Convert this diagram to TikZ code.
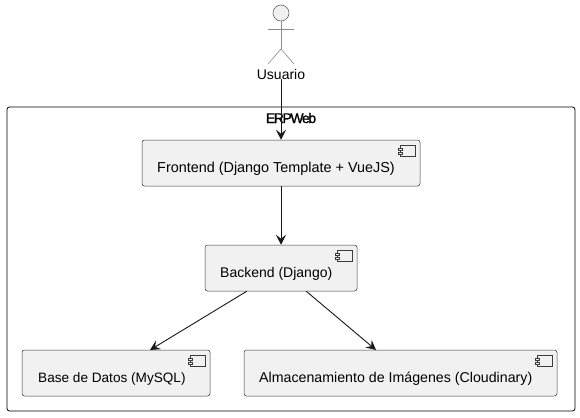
\documentclass[tikz,border=0pt]{standalone}
\usepackage{fontspec}
\setmainfont{Liberation Sans}
\newfontfamily\titlefont[FakeBold=1.2,LetterSpace=-10]{Liberation Sans}
\usetikzlibrary{arrows.meta}
\definecolor{boxfill}{HTML}{F1F1F1}
\definecolor{linedark}{HTML}{181818}
\tikzset{
	compbox/.style={draw=linedark!85,line width=.5pt,fill=boxfill,rounded corners=2.5pt,minimum height=46pt,inner sep=0pt},
	complabel/.style={anchor=west,inner sep=0pt,font=\fontsize{#1}{16}\selectfont,text=black},
	complabel/.default=14,
	link/.style={draw=linedark,line width=.9pt,-{Stealth[length=10pt,width=10pt,inset=4pt]}},
	actorline/.style={draw=linedark!50,line width=.6pt},
	compicon/.pic={
		\draw[linedark!85,line width=.5pt,fill=boxfill] (-20,5.5) rectangle (-5,16);
		\draw[linedark!85,line width=.5pt,fill=boxfill] (-22,8) rectangle (-18,10);
		\draw[linedark!85,line width=.5pt,fill=boxfill] (-22,12) rectangle (-18,14);
	}
}
\begin{document}
\begin{tikzpicture}[x=1pt,y=-1pt]
	\useasboundingbox (0,0) rectangle (580,417);
	% outer frame
	\node[draw=black,line width=.8pt,rounded corners=2.5pt,minimum width=568pt,minimum height=304pt,inner sep=0pt] (erpweb) at (291,259) {};
	\node[font=\fontsize{14}{16}\titlefont,inner sep=0pt] (erpwebtext) at (291,118) {ERPWeb};
	% actor
	\coordinate (hip) at (281,49);
	\node[circle,draw=linedark!65,line width=.6pt,fill=boxfill,minimum size=16pt,inner sep=0pt] (head) at (281,13) {};
	\coordinate (armleft) at (268,29);
	\coordinate (armright) at (294,29);
	\coordinate (legleft) at (268,64);
	\coordinate (legright) at (294,64);
	\draw[actorline] (head.south) -- (hip);
	\draw[actorline] (armleft) -- (armright);
	\draw[actorline] (legleft) -- (hip) -- (legright);
	\node[complabel,anchor=center] (usuario) at (281,74) {Usuario};
	% components
	\node[compbox,minimum width=278pt] (frontend) at (281,163) {};
	\node[compbox,minimum width=152pt] (backend) at (281,268) {};
	\node[compbox,minimum width=188pt] (basedatos) at (116,373) {};
	\node[compbox,minimum width=313pt] (imagenes) at (400.5,373) {};
	\node[complabel=14.4] (frontendtext) at (157,169) {Frontend (Django Template + VueJS)};
	\node[complabel] (backendtext) at (220,274) {Backend (Django)};
	\node[complabel=13.6] (basedatostext) at (38,379) {Base de Datos (MySQL)};
	\node[complabel=14.2] (imagenestext) at (259,379) {Almacenamiento de Imágenes (Cloudinary)};
	\pic at (frontend.north east) {compicon};
	\pic at (backend.north east) {compicon};
	\pic at (basedatos.north east) {compicon};
	\pic at (imagenes.north east) {compicon};
	% connectors
	\draw[link] (usuario.south) -- (frontend.north);
	\draw[link] (frontend.south) -- (backend.north);
	\draw[link] (backend.south west) ++(42,0) coordinate (backendleft) (backendleft) -- (150,350);
	\draw[link] (backend.south east) ++(-51,0) coordinate (backendright) (backendright) -- (376,350);
\end{tikzpicture}
\end{document}
